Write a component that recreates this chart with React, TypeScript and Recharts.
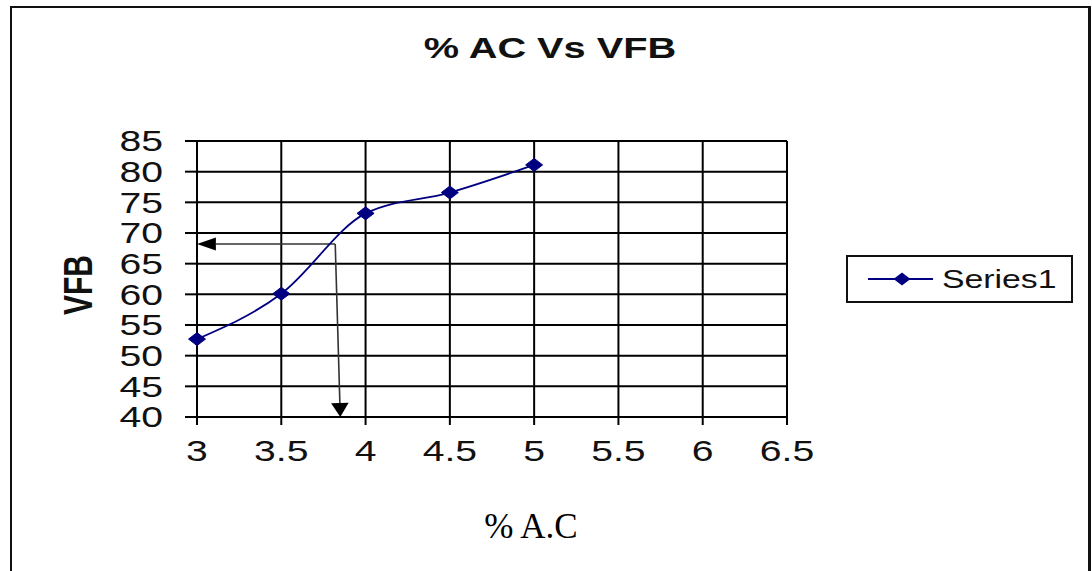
import React from "react";
import {
  LineChart,
  Line,
  XAxis,
  YAxis,
  CartesianGrid,
  Legend,
  ReferenceLine,
  Label,
} from "recharts";

// ---- data ----
const acValues = [3, 3.5, 4, 4.5, 5];
const vfbValues = [52.7, 60.1, 73.2, 76.6, 81.1];
const xTicks = [3, 3.5, 4, 4.5, 5, 5.5, 6, 6.5];
const yTicks = [40, 45, 50, 55, 60, 65, 70, 75, 80, 85];
const seriesName = "Series1";
const titleText = "% AC Vs VFB";
const xLabelText = "% A.C";
const yLabelText = "VFB";
// annotation arrows (data coordinates)
const arrowToY = [
  { x: 3.82, y: 68.2 },
  { x: 3.0, y: 68.2 },
];
const arrowToX = [
  { x: 3.82, y: 68.2 },
  { x: 3.85, y: 40 },
];

const data = acValues.map((ac, i) => ({ ac, vfb: vfbValues[i] }));

const SX = 1.35; // horizontal stretch of the reference image
const NAVY = "#000080";
const SANS = "'Liberation Sans', Arial, sans-serif";

const Diamond = (props: any) => {
  const { cx, cy, index } = props;
  if (cx == null || cy == null) return null;
  const w = 8.5;
  const h = 6.5;
  return (
    <polygon
      key={`d-${index}`}
      points={`${cx - w},${cy} ${cx},${cy - h} ${cx + w},${cy} ${cx},${cy + h}`}
      fill={NAVY}
      stroke={NAVY}
    />
  );
};

const YTick = (props: any) => {
  const { x, y, payload } = props;
  return (
    <g transform={`translate(${x},${y}) scale(${SX},1)`}>
      <text x={0} y={0} dy="0.36em" textAnchor="end" fontFamily={SANS} fontSize={29} fill="#111">
        {payload.value}
      </text>
    </g>
  );
};

const XTick = (props: any) => {
  const { x, y, payload } = props;
  return (
    <g transform={`translate(${x},${y}) scale(${SX},1)`}>
      <text x={0} y={0} dy="0.74em" textAnchor="middle" fontFamily={SANS} fontSize={29} fill="#111">
        {payload.value}
      </text>
    </g>
  );
};

const Arrow = (props: any) => {
  const { x1, y1, x2, y2 } = props;
  if ([x1, y1, x2, y2].some((v) => v == null || isNaN(v))) return null;
  let ux = (x2 - x1) / SX;
  let uy = y2 - y1;
  const n = Math.hypot(ux, uy) || 1;
  ux /= n;
  uy /= n;
  const len = 14;
  const half = 6.5;
  const bx = x2 - ux * len * SX;
  const by = y2 - uy * len;
  const px = -uy * half * SX;
  const py = ux * half;
  return (
    <g>
      <line x1={x1} y1={y1} x2={bx} y2={by} stroke="#333" strokeWidth={1.6} />
      <polygon
        points={`${x2},${y2} ${bx + px},${by + py} ${bx - px},${by - py}`}
        fill="#000"
      />
    </g>
  );
};

const LegendBox = () => (
  <div
    style={{
      boxSizing: "border-box",
      width: 227,
      height: 48,
      border: "2px solid #111",
      background: "#fff",
    }}
  >
    <svg width={223} height={44} style={{ display: "block" }}>
      <line x1={20} y1={22} x2={85} y2={22} stroke={NAVY} strokeWidth={1.8} />
      <polygon points={`${45.5},22 54,15.5 62.5,22 54,28.5`} fill={NAVY} />
      <g transform={`translate(94,31) scale(1.3,1)`}>
        <text x={0} y={0} fontFamily={SANS} fontSize={26} fill="#111">
          {seriesName}
        </text>
      </g>
    </svg>
  </div>
);

export default function App() {
  return (
    <div
      style={{
        position: "absolute",
        left: 0,
        top: 0,
        width: 1092,
        height: 571,
        overflow: "hidden",
        background: "#fff",
      }}
    >
      <div
        style={{
          position: "absolute",
          left: 10,
          top: 6,
          width: 1081,
          height: 565,
          boxSizing: "border-box",
          borderTop: "2px solid #111",
          borderLeft: "2px solid #111",
          borderRight: "3px solid #111",
        }}
      />
      <svg
        width={1092}
        height={100}
        style={{ position: "absolute", left: 0, top: 0 }}
      >
        <g transform={`translate(550,58) scale(1.37,1)`}>
          <text x={0} y={0} textAnchor="middle" fontFamily={SANS} fontWeight="bold" fontSize={29} fill="#111">
            {titleText}
          </text>
        </g>
      </svg>
      <div style={{ position: "absolute", left: 0, top: 0 }}>
        <LineChart
          width={1092}
          height={571}
          data={data}
          margin={{ top: 141, right: 305, left: 137, bottom: 114 }}
        >
          <CartesianGrid stroke="#000" strokeWidth={2} />
          <XAxis
            dataKey="ac"
            type="number"
            domain={[3, 6.5]}
            ticks={xTicks}
            interval={0}
            height={40}
            tickSize={8}
            tickMargin={15}
            axisLine={{ stroke: "#000", strokeWidth: 2 }}
            tickLine={{ stroke: "#000", strokeWidth: 2 }}
            tick={<XTick />}
          >
            <Label
              content={() => (
                <text
                  x={531}
                  y={538}
                  textAnchor="middle"
                  fontFamily="'Liberation Serif', 'Times New Roman', serif"
                  fontSize={35}
                  fill="#000"
                >
                  {xLabelText}
                </text>
              )}
            />
          </XAxis>
          <YAxis
            type="number"
            domain={[40, 85]}
            ticks={yTicks}
            interval={0}
            width={60}
            tickSize={12}
            tickMargin={22}
            axisLine={{ stroke: "#000", strokeWidth: 2 }}
            tickLine={{ stroke: "#000", strokeWidth: 2 }}
            tick={<YTick />}
          >
            <Label
              content={() => (
                <g transform={`translate(77.5,285) scale(${SX},1) rotate(-90)`}>
                  <text
                    x={0}
                    y={0}
                    dy="0.36em"
                    textAnchor="middle"
                    fontFamily={SANS}
                    fontWeight="bold"
                    fontSize={30}
                    fill="#111"
                  >
                    {yLabelText}
                  </text>
                </g>
              )}
            />
          </YAxis>
          <ReferenceLine segment={arrowToY} ifOverflow="visible" shape={<Arrow />} />
          <ReferenceLine segment={arrowToX} ifOverflow="visible" shape={<Arrow />} />
          <Line
            type="monotone"
            dataKey="vfb"
            name={seriesName}
            stroke={NAVY}
            strokeWidth={1.8}
            dot={<Diamond />}
            activeDot={false}
            isAnimationActive={false}
          />
          <Legend
            layout="horizontal"
            verticalAlign="middle"
            align="center"
            wrapperStyle={{ position: "absolute", left: 846, top: 255, width: 227, height: 48 }}
            content={<LegendBox />}
          />
        </LineChart>
      </div>
    </div>
  );
}
